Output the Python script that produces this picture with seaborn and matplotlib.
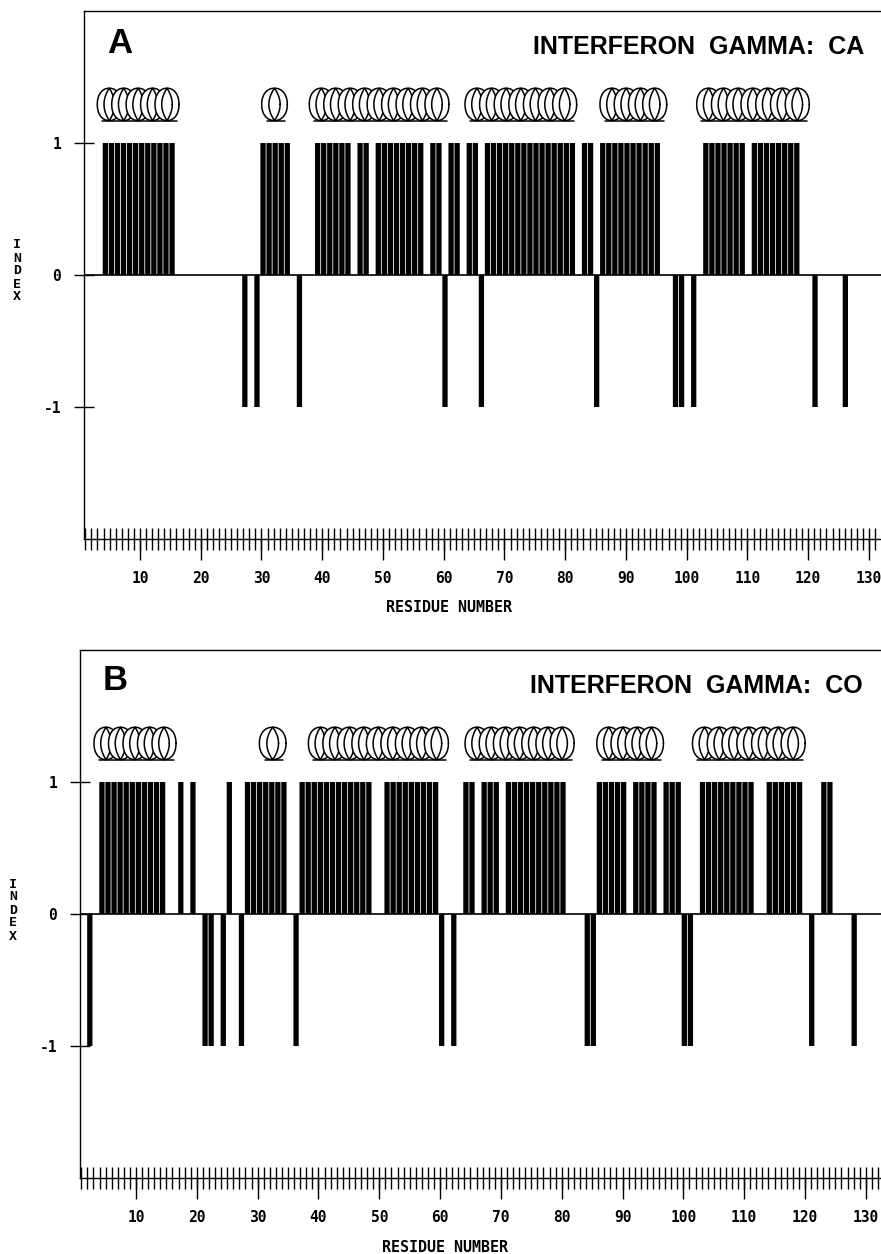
import numpy as np
import pandas as pd
import matplotlib
matplotlib.use('Agg')
import matplotlib.pyplot as plt
from matplotlib.ticker import MultipleLocator
import seaborn as sns

# residues with index +1 / -1
def span(a, b):
    return list(range(a, b + 1))

pos_a = span(4, 15) + span(30, 34) + span(39, 44) + span(46, 47) + span(49, 56) + span(58, 59) \
    + span(61, 62) + span(64, 65) + span(67, 81) + span(83, 84) + span(86, 95) + span(103, 109) + span(111, 118)
neg_a = [27, 29, 36, 60, 66, 85, 98, 99, 101, 121, 126]

pos_b = span(4, 14) + [17, 19, 25] + span(28, 34) + span(37, 48) + span(51, 59) + span(64, 65) \
    + span(67, 69) + span(71, 80) + span(86, 90) + span(92, 95) + span(97, 99) + span(103, 111) \
    + span(114, 119) + span(123, 124)
neg_b = [2, 21, 22, 24, 27, 36, 60, 62, 84, 85, 100, 101, 121, 128]

# helices: first residue edge, last residue edge, number of turns
helix_start_a = [2.97, 30.03, 37.87, 63.5, 85.72, 101.64]
helix_stop_a = [16.42, 34.25, 60.86, 81.88, 96.7, 120.17]
helix_start_b = [3.09, 30.28, 38.34, 64.11, 85.77, 101.5]
helix_stop_b = [16.58, 34.67, 61.37, 82.04, 96.73, 120.03]
helix_turns = [5, 1, 9, 7, 4, 7]

x_labels = list(range(10, 131, 10))
y_ticks = [-1, 0, 1]
y_labels = ['-1', '0', '1']

W, H = 881, 1254
MONO = 'DejaVu Sans Mono'
SANS = 'Liberation Sans'

sns.set_style('ticks')
plt.rcParams['text.color'] = 'black'
fig = plt.figure(figsize=(W / 100, H / 100), dpi=100)


def draw_helix(ax, start, stop, turns):
    # one round loop per turn with a pointed lens inside, painted left to right
    ymin, ymax = 1.17, 1.415
    yc, b = (ymin + ymax) / 2, (ymax - ymin) / 2
    w = 3.95 if turns > 1 else stop - start
    pitch = (stop - start - w) / (turns - 1) if turns > 1 else 0
    t = np.linspace(0, 2 * np.pi, 181)
    ox = np.sign(np.cos(t)) * np.abs(np.cos(t)) ** 0.92
    oy = np.sign(np.sin(t)) * np.abs(np.sin(t)) ** 0.92
    s = np.sin(t)
    lens = np.sign(np.cos(t)) * (1 - s ** 2)
    for k in range(turns):
        c = start + w / 2 + k * pitch
        z = 5 + k * 0.01
        ax.fill(c + w / 2 * ox, yc + b * oy, color='white', lw=0, zorder=z)
        ax.plot(c + w / 2 * ox, yc + b * oy, color='black', lw=1.1, zorder=z)
        ax.plot(c + w * 0.22 * lens, yc + b * s, color='black', lw=1.1, zorder=z)
    ax.plot([start + w * 0.2, stop - w * 0.1], [ymin - 0.005] * 2, color='black', lw=1.1, zorder=5)


def draw_panel(left, top, bottom, xlim, stretch, shift, pos, neg, starts, stops, title, letter, title_x, title_y, letter_x, letter_y):
    ax = fig.add_axes([left / W, 1 - bottom / H, (W - left) / W, (bottom - top) / H])
    df = pd.DataFrame({'residue': pos + neg, 'index': [1] * len(pos) + [-1] * len(neg)})
    # the scanned bars run on a slightly tighter scale than the printed ticks
    df['x'] = df['residue'] * stretch + shift
    sns.barplot(data=df, x='x', y='index', native_scale=True, color='black', saturation=1,
                width=0.87, linewidth=0, errorbar=None, ax=ax, zorder=3)
    for p in ax.patches:
        p.set_snap(False)
    ax.axhline(0, color='black', lw=1.2, zorder=4)
    for s, e, n in zip(starts, stops, helix_turns):
        draw_helix(ax, s, e, n)

    ax.set_xlim(*xlim)
    ax.set_ylim(-2, 2)
    ax.spines['right'].set_visible(False)
    for side in ['left', 'top', 'bottom']:
        ax.spines[side].set_linewidth(1.0)
        ax.spines[side].set_color('black')

    ax.xaxis.remove_overlapping_locs = False
    ax.set_xticks(x_labels)
    ax.set_xticklabels([str(v) for v in x_labels], family=MONO, fontweight='bold', fontsize=10.5)
    ax.xaxis.set_minor_locator(MultipleLocator(1))
    ax.tick_params(axis='x', which='major', direction='out', length=15, width=1.0, pad=8, color='black', labelcolor='black')
    ax.tick_params(axis='x', which='minor', direction='inout', length=16, width=1.0, color='black')
    ax.set_yticks(y_ticks)
    ax.set_yticklabels(y_labels, family=MONO, fontweight='bold', fontsize=10.5)
    ax.tick_params(axis='y', direction='inout', length=14, width=1.0, pad=9, color='black', labelcolor='black')
    ax.set_xlabel('')
    ax.set_ylabel('')

    fig.text(title_x / W, 1 - title_y / H, title, family=SANS, fontweight='bold', fontsize=18,
             ha='right', va='center')
    fig.text(letter_x / W, 1 - letter_y / H, letter, family=SANS, fontweight='bold', fontsize=25,
             ha='left', va='center')
    return ax


draw_panel(83.5, 11, 539, (0.7, 131.98), 0.9985, 0.30, pos_a, neg_a, helix_start_a, helix_stop_a,
           'INTERFERON  GAMMA:  CA', 'A', 864, 47, 107, 43.5)
draw_panel(79.5, 650, 1178, (0.71, 132.5), 0.9975, 0.41, pos_b, neg_b, helix_start_b, helix_stop_b,
           'INTERFERON  GAMMA:  CO', 'B', 863, 686, 103, 681)

# axis titles sit in figure space, the letters of INDEX are stacked
for xp, yp in [(449, 608), (445, 1247)]:
    fig.text(xp / W, 1 - yp / H, 'RESIDUE NUMBER', family=MONO, fontweight='bold', fontsize=10.8,
             ha='center', va='center')
for xp, yp in [(17, 271), (13, 910)]:
    fig.text(xp / W, 1 - yp / H, 'I\nN\nD\nE\nX', family=MONO, fontweight='bold', fontsize=9.5,
             ha='center', va='center', linespacing=1.0)

fig.savefig('out.png', dpi=100)
